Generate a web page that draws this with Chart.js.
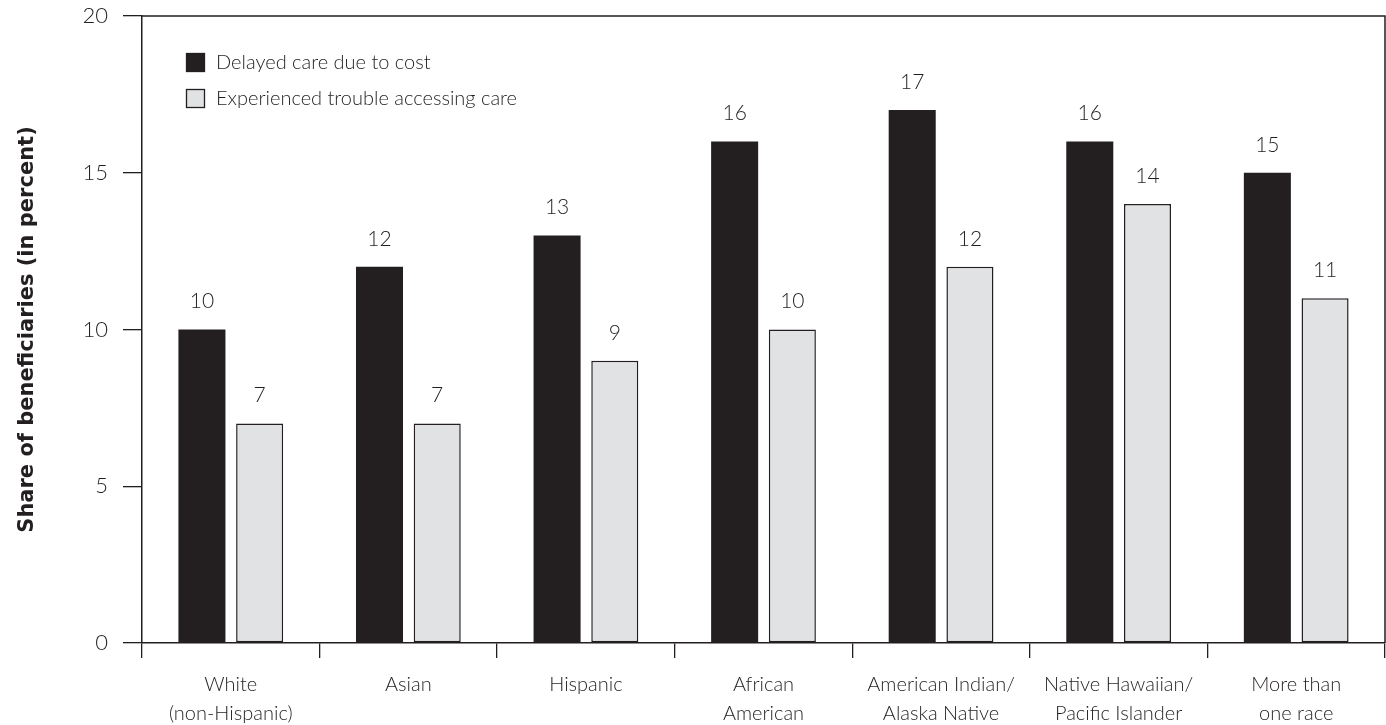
<!DOCTYPE html>
<html>
<head>
<meta charset="utf-8">
<script src="https://cdn.jsdelivr.net/npm/chart.js@4.4.1/dist/chart.umd.min.js"></script>
<style>
  html, body { margin: 0; padding: 0; background: #ffffff; }
  #wrap { width: 1386px; height: 725px; position: relative; }
</style>
</head>
<body>
<div id="wrap"><canvas id="chart" width="1386" height="725"></canvas></div>
<script>
// Categories (multi-line labels) and series values, in percent
const categories = [
  ['White', '(non-Hispanic)'],
  ['Asian'],
  ['Hispanic'],
  ['African', 'American'],
  ['American Indian/', 'Alaska Native'],
  ['Native Hawaiian/', 'Pacific Islander'],
  ['More than', 'one race']
];
const delayedCare = [10, 12, 13, 16, 17, 16, 15];
const troubleAccess = [7, 7, 9, 10, 12, 14, 11];
const seriesNames = ['Delayed care due to cost', 'Experienced trouble accessing care'];
const yTicks = [0, 5, 10, 15, 20];

const INK = '#231f20';
const LIGHT = '#e1e2e4';
const TEXT_FONT = '"Lato", "DejaVu Sans", sans-serif';

// Top and right frame lines around the plot area
const framePlugin = {
  id: 'frame',
  afterDraw(chart) {
    const { ctx, chartArea: a } = chart;
    ctx.save();
    ctx.strokeStyle = INK;
    ctx.lineWidth = 1.5;
    ctx.beginPath();
    ctx.moveTo(a.left, a.top);
    ctx.lineTo(a.right, a.top);
    ctx.lineTo(a.right, a.bottom);
    ctx.stroke();
    ctx.restore();
  }
};

// Value labels drawn above each bar
const valueLabels = {
  id: 'valueLabels',
  afterDatasetsDraw(chart) {
    const { ctx } = chart;
    ctx.save();
    ctx.font = '300 21px ' + TEXT_FONT;
    ctx.fillStyle = INK;
    ctx.textAlign = 'center';
    ctx.textBaseline = 'middle';
    chart.data.datasets.forEach((ds, di) => {
      chart.getDatasetMeta(di).data.forEach((bar, i) => {
        ctx.fillText(String(ds.data[i]), bar.x, bar.y - 28);
      });
    });
    ctx.restore();
  }
};

// Legend placed inside the plot area, upper left
const insideLegend = {
  id: 'insideLegend',
  afterDraw(chart) {
    const { ctx, chartArea: a } = chart;
    ctx.save();
    ctx.font = '300 20px ' + TEXT_FONT;
    ctx.textBaseline = 'middle';
    ctx.textAlign = 'left';
    chart.data.datasets.forEach((ds, i) => {
      const x = a.left + 44;
      const y = a.top + 46 + i * 36;
      ctx.fillStyle = ds.backgroundColor;
      ctx.fillRect(x, y - 9, 19, 19);
      ctx.strokeStyle = INK;
      ctx.lineWidth = 1.3;
      ctx.strokeRect(x + 0.5, y - 8.5, 18, 18);
      ctx.fillStyle = INK;
      ctx.fillText(ds.label, x + 30, y + 1);
    });
    ctx.restore();
  }
};

new Chart(document.getElementById('chart'), {
  type: 'bar',
  data: {
    labels: categories,
    datasets: [
      {
        label: seriesNames[0],
        data: delayedCare,
        backgroundColor: INK,
        borderColor: INK,
        borderWidth: 0,
        categoryPercentage: 0.65,
        barPercentage: 0.815
      },
      {
        label: seriesNames[1],
        data: troubleAccess,
        backgroundColor: LIGHT,
        borderColor: INK,
        borderWidth: 1.5,
        borderSkipped: false,
        categoryPercentage: 0.65,
        barPercentage: 0.815
      }
    ]
  },
  options: {
    responsive: false,
    animation: false,
    devicePixelRatio: 1,
    layout: { padding: { top: 16, right: 1, left: 0, bottom: 0 } },
    plugins: {
      legend: { display: false },
      tooltip: { enabled: false }
    },
    scales: {
      x: {
        grid: {
          display: true,
          offset: true,
          drawOnChartArea: false,
          drawTicks: true,
          tickLength: 15,
          color: INK,
          lineWidth: 1.3
        },
        border: { display: true, color: INK, width: 1.5 },
        ticks: {
          color: INK,
          font: { family: TEXT_FONT, size: 20, weight: 300, lineHeight: 1.45 },
          padding: 12,
          maxRotation: 0,
          autoSkip: false
        },
        afterFit(scale) {
          scale.height = 82;
          scale.paddingLeft = 0;
          scale.paddingRight = 0;
        }
      },
      y: {
        min: 0,
        max: 20,
        afterBuildTicks(scale) { scale.ticks = yTicks.map(v => ({ value: v })); },
        grid: {
          display: true,
          drawOnChartArea: false,
          drawTicks: true,
          tickLength: 19,
          color: INK,
          lineWidth: 1.3
        },
        border: { display: true, color: INK, width: 1.5 },
        ticks: {
          color: INK,
          font: { family: TEXT_FONT, size: 22, weight: 300 },
          padding: 15
        },
        title: {
          display: true,
          text: 'Share of beneficiaries (in percent)',
          color: INK,
          font: { family: '"DejaVu Sans", sans-serif', size: 21, weight: 'bold' },
          padding: { top: 15, bottom: 0 }
        },
        afterFit(scale) {
          scale.width = 142;
          scale.paddingTop = 0;
          scale.paddingBottom = 0;
        }
      }
    }
  },
  plugins: [framePlugin, valueLabels, insideLegend]
});
</script>
</body>
</html>
